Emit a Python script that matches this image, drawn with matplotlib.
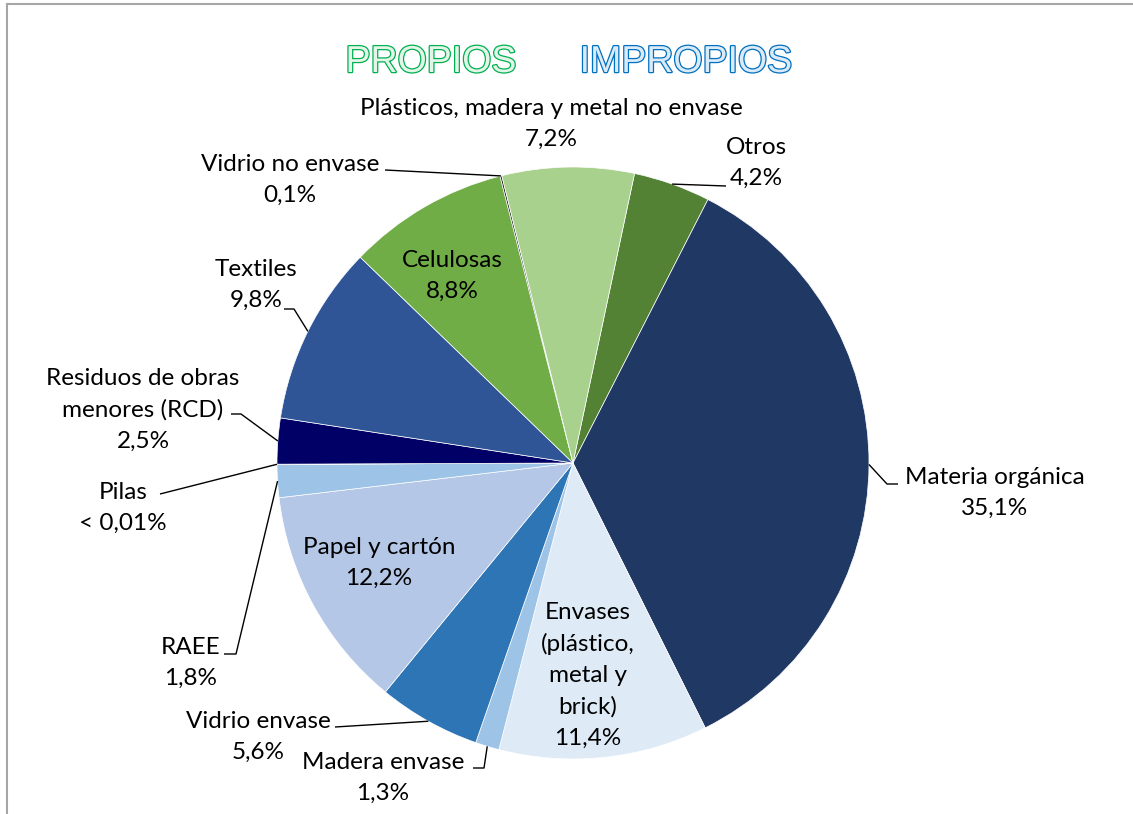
import numpy as np
import matplotlib.pyplot as plt
import matplotlib.patheffects as pe
from matplotlib.lines import Line2D

# data, clockwise from the top
labels = ['Otros', 'Materia orgánica', 'Envases\n(plástico,\nmetal y\nbrick)',
          'Madera envase', 'Vidrio envase', 'Papel y cartón', 'RAEE', 'Pilas',
          'Residuos de obras\nmenores (RCD)', 'Textiles', 'Celulosas',
          'Vidrio no envase', 'Plásticos, madera y metal no envase']
values = [4.2, 35.1, 11.4, 1.3, 5.6, 12.2, 1.8, 0.01, 2.5, 9.8, 8.8, 0.1, 7.2]
pct_text = ['4,2%', '35,1%', '11,4%', '1,3%', '5,6%', '12,2%', '1,8%', '< 0,01%',
            '2,5%', '9,8%', '8,8%', '0,1%', '7,2%']
colors = ['#548235', '#203864', '#deebf7', '#9dc3e6', '#2e75b6', '#b4c7e7',
          '#9dc3e6', '#9dc3e6', '#000066', '#2f5597', '#70ad47', '#2b2b2b',
          '#a9d18e']

W, H = 1133, 814
CX, CY, R = 573, H - 463, 296


def main():
    plt.rcParams['font.family'] = ['Lato', 'DejaVu Sans']

    fig = plt.figure(figsize=(W / 100, H / 100), dpi=100)
    ax = fig.add_axes([0, 0, 1, 1])

    wedges, _ = ax.pie(values, colors=colors, startangle=78, counterclock=False,
                       center=(CX, CY), radius=R,
                       wedgeprops=dict(edgecolor='white', linewidth=0.5))
    ax.set_xlim(0, W)
    ax.set_ylim(0, H)
    ax.set_aspect('auto')
    ax.axis('off')

    def edge(i, r=R):
        w = wedges[i]
        a = np.deg2rad((w.theta1 + w.theta2) / 2)
        return CX + r * np.cos(a), CY + r * np.sin(a)

    # label centre (px, from top) and leader points (px) from label to slice
    layout = {
        0: ((756, 163), [(726, 186)]),
        1: ((995, 493), [(898, 484), (887, 484)]),
        2: ((588, 675), None),
        3: ((383, 778), [(473, 768), (484, 768)]),
        4: ((258, 737), [(335, 727)]),
        5: ((379, 563), None),
        6: ((191, 663), [(224, 654), (236, 654)]),
        7: ((123, 508), [(160, 494)]),
        8: ((143, 410), [(231, 414), (241, 414)]),
        9: ((256, 285), [(284, 309), (294, 309)]),
        10: ((452, 276), None),
        11: ((290, 180), [(385, 170)]),
        12: ((551, 124), None),
    }

    for i, (pos, leader) in layout.items():
        x, y = pos
        ax.text(x, H - y, labels[i] + '\n' + pct_text[i], ha='center',
                va='center', fontsize=17.5, linespacing=1.58, color='black')
        if leader:
            pts = [(px, H - py) for px, py in leader] + [edge(i)]
            xs, ys = zip(*pts)
            ax.plot(xs, ys, color='black', lw=1, solid_capstyle='butt')

    # outlined title words
    for word, px, col, fill in [('PROPIOS', 431, '#00b050', '#e3f5e8'),
                                ('IMPROPIOS', 686, '#0070c0', '#dbeaf7')]:
        ax.text(px, H - 62, word, ha='center', va='center', fontsize=27,
                family='Liberation Sans', color=fill,
                path_effects=[pe.Stroke(linewidth=1.8, foreground=col),
                              pe.Normal()])

    # chart area border (left and top visible)
    fig.add_artist(Line2D([6.5 / W, 6.5 / W], [0, 1 - 4 / H],
                          transform=fig.transFigure, color='#a6a6a6', lw=1.5))
    fig.add_artist(Line2D([6.5 / W, 1], [1 - 4 / H, 1 - 4 / H],
                          transform=fig.transFigure, color='#a6a6a6', lw=1.5))

    fig.savefig('out.png', dpi=100)


if __name__ == '__main__':
    main()
